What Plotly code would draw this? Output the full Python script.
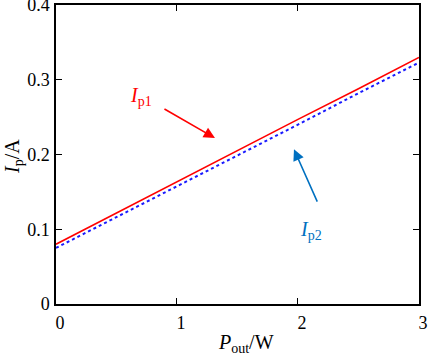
import plotly.graph_objects as go

p_out = [0, 0.5, 1, 1.5, 2, 2.5, 3]
ip1 = [0.080, 0.122, 0.163, 0.205, 0.247, 0.288, 0.330]
ip2 = [0.075, 0.116, 0.158, 0.199, 0.240, 0.282, 0.323]
x_ticks = [0, 1, 2, 3]
y_ticks = [0, 0.1, 0.2, 0.3, 0.4]
y_tick_labels = ["0", "0.1", "0.2", "0.3", "0.4"]

FONT = "Liberation Serif"

L, R, T, B, W, H = 56, 10, 5, 50, 429, 354
PW, PH = W - L - R, H - T - B

fig = go.Figure()
fig.add_trace(go.Scatter(x=p_out, y=ip2, mode="lines",
                         line=dict(color="#1a1aff", width=2, dash="dot"), showlegend=False))
fig.add_trace(go.Scatter(x=p_out, y=ip1, mode="lines",
                         line=dict(color="#ff0000", width=1.6), showlegend=False))

axis_common = dict(showline=True, linecolor="black", linewidth=1.5, mirror="ticks",
                   ticks="inside", ticklen=6, tickwidth=1.2, tickcolor="black",
                   showgrid=False, zeroline=False, automargin=False,
                   ticklabeloverflow="allow",
                   tickfont=dict(family=FONT, size=18, color="black"))

fig.update_xaxes(range=[0, 3.0005], tickvals=x_ticks, ticktext=[str(v) for v in x_ticks],
                 ticklabelshift=4, ticklabelstandoff=2, **axis_common)
fig.update_yaxes(range=[0, 0.40005], tickvals=y_ticks, ticktext=y_tick_labels,
                 ticklabelstandoff=1, **axis_common)

fig.add_annotation(x=1.314, y=0.222, ax=0.884, ay=0.262, xref="x", yref="y", axref="x", ayref="y",
                   showarrow=True, arrowhead=2, arrowsize=1.4, arrowwidth=1.6, arrowcolor="#ff0000", text="")
fig.add_annotation(x=1.967, y=0.207, ax=2.165, ay=0.135, xref="x", yref="y", axref="x", ayref="y",
                   showarrow=True, arrowhead=2, arrowsize=1.4, arrowwidth=1.6, arrowcolor="#0070c0", text="")
fig.add_annotation(x=0.70, y=0.277, xref="x", yref="y", showarrow=False, xanchor="center", yanchor="middle",
                   text="<i>I</i><sub>p1</sub>", font=dict(family=FONT, size=20, color="#ff0000"))
fig.add_annotation(x=2.107, y=0.099, xref="x", yref="y", showarrow=False, xanchor="center", yanchor="middle",
                   text="<i>I</i><sub>p2</sub>", font=dict(family=FONT, size=20, color="#0070c0"))

fig.add_annotation(x=(246 - L) / PW, y=(H - B - 343) / PH, xref="paper", yref="paper", showarrow=False,
                   xanchor="center", yanchor="middle",
                   text="<i>P</i><sub>out</sub>/W", font=dict(family=FONT, size=20, color="black"))
fig.add_annotation(x=(13 - L) / PW, y=(H - B - 157) / PH, xref="paper", yref="paper", showarrow=False,
                   xanchor="center", yanchor="middle",
                   textangle=-90, text="<i>I</i><sub>p</sub>/A",
                   font=dict(family=FONT, size=20, color="black"))

fig.update_layout(width=W, height=H, margin=dict(l=L, r=R, t=T, b=B, autoexpand=False),
                  font=dict(family=FONT, size=18, color="black"),
                  plot_bgcolor="white", paper_bgcolor="white")

fig.write_html("out.html", config={"displayModeBar": False},
               post_script="document.body.style.margin='0';document.body.style.overflow='hidden';")
